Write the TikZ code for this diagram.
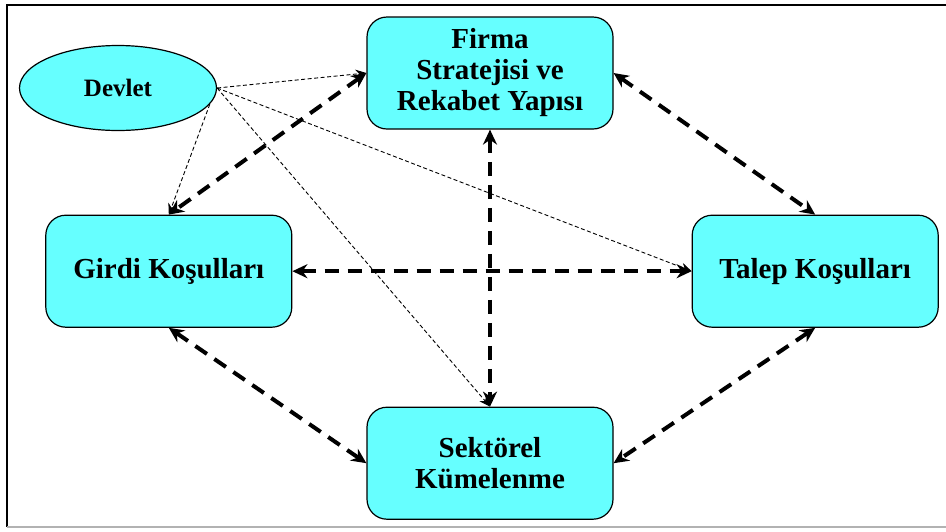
\documentclass[tikz,border=0pt]{standalone}
\usepackage{fontspec}
\setmainfont{Liberation Serif}
\usepackage{tikz}
\usetikzlibrary{positioning,shapes,arrows.meta}
\definecolor{turkuaz}{rgb}{0.4,1,1}
\tikzstyle{kutu}=[%
      rectangle, rounded corners=20pt, draw=black, line width=1.2pt, fill=turkuaz,
      minimum width=246pt, minimum height=112pt, inner sep=4pt, align=center,
      font=\bfseries\fontsize{29}{31}\selectfont
]
\tikzstyle{devletstil}=[%
      ellipse, draw=black, line width=1.2pt, fill=turkuaz,
      minimum width=197pt, minimum height=85pt, inner sep=0pt,
      font=\bfseries\fontsize{25}{27}\selectfont
]
\tikzstyle{kalin}=[%
      line width=4pt, dash pattern=on 14pt off 9pt,
      arrows={Stealth[length=15pt,width=14pt]-Stealth[length=15pt,width=14pt]}
]
\tikzstyle{ince}=[%
      line width=0.9pt, dash pattern=on 4pt off 2.5pt,
      arrows={-Stealth[length=11pt,width=9pt]}
]
\begin{document}
\begin{tikzpicture}[x=1pt, y=-1pt]
    \useasboundingbox (0,0) rectangle (946,531);
    % cerceve
    \draw[line width=2.5pt] (946,5) -- (7,5) -- (7,527);
    \draw[gray!60, line width=1.5pt] (7,527) -- (946,527);

    \node[kutu]       (firma)    at (490,73)                  {Firma\\Stratejisi ve\\Rekabet Yapısı};
    \node[kutu]       (girdi)    [below left = 85pt and 74pt of firma]  {Girdi Koşulları};
    \node[kutu]       (talep)    [below right = 85pt and 78pt of firma] {Talep Koşulları};
    \node[kutu]       (sektorel) [below = 277pt of firma]     {Sektörel\\Kümelenme};
    \node[devletstil] (devlet)   at (118,88)                  {Devlet};

    \path (firma.west)  edge[kalin] (girdi.north)
          (firma.east)  edge[kalin] (talep.north)
          (firma.south) edge[kalin] (sektorel.north)
          (girdi.east)  edge[kalin] (talep.west)
          (girdi.south) edge[kalin] (sektorel.west)
          (talep.south) edge[kalin] (sektorel.east)
    ;
    \path (devlet.east) edge[ince] (firma.west)
          (devlet.-10)  edge[ince] (girdi.north)
          (devlet.east) edge[ince] (talep.west)
          (devlet.east) edge[ince] (sektorel.north)
    ;
\end{tikzpicture}
\end{document}
